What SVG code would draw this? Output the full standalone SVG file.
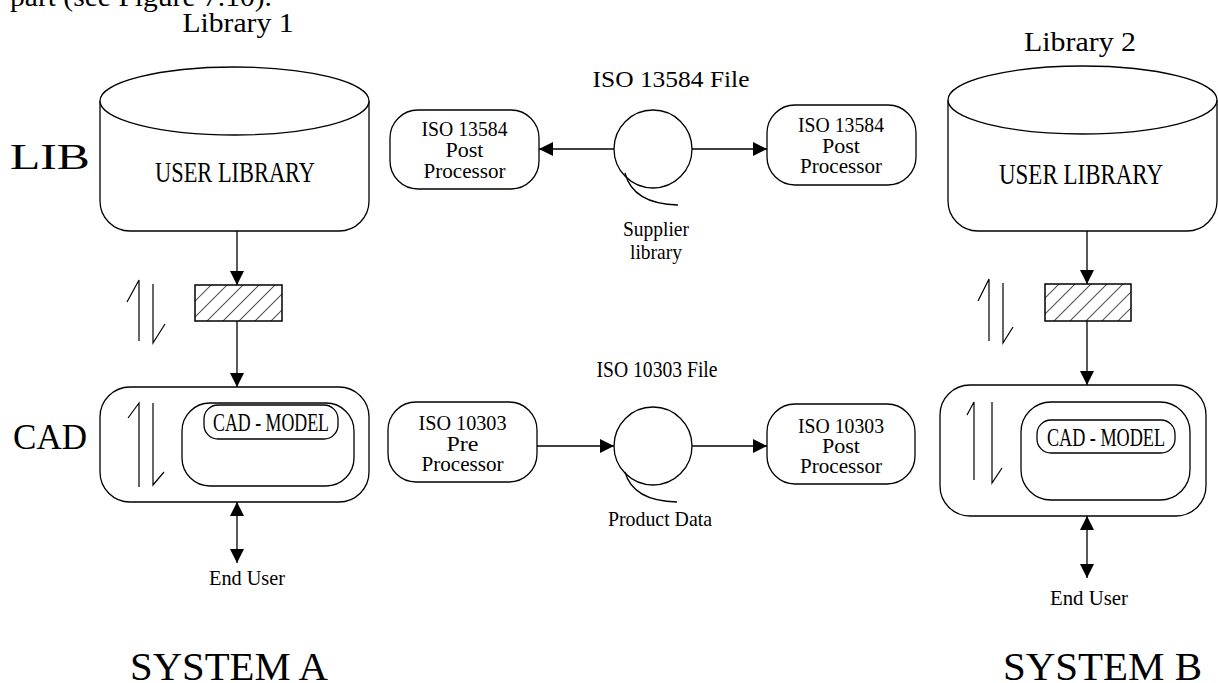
<svg xmlns="http://www.w3.org/2000/svg" width="1218" height="683" viewBox="0 0 1218 683">
<style>
text{font-family:"Liberation Serif","Times New Roman",serif;fill:#000}
.ln{fill:none;stroke:#000;stroke-width:1.3}
.box{fill:#fff;stroke:#000;stroke-width:1.3}
.sym{fill:none;stroke:#000;stroke-width:1.2}
.c{text-anchor:middle}
</style>
<defs>
<marker id="ah" viewBox="0 0 10 10" refX="10" refY="5" markerWidth="14" markerHeight="14" markerUnits="userSpaceOnUse" orient="auto-start-reverse">
<path d="M0,0 L10,5 L0,10 Z" fill="#000"/>
</marker>
<pattern id="hatch" patternUnits="userSpaceOnUse" width="11.3" height="11.3" patternTransform="rotate(45)">
<line x1="0" y1="0" x2="0" y2="11.3" stroke="#000" stroke-width="1.3"/>
</pattern>
</defs>
<rect width="1218" height="683" fill="#fff"/>

<text x="10" y="6" font-size="28" textLength="262" lengthAdjust="spacingAndGlyphs">part (see Figure 7.10).</text>
<text x="238" y="32" class="c" font-size="28" textLength="111" lengthAdjust="spacingAndGlyphs">Library 1</text>
<text x="1080" y="51" class="c" font-size="28" textLength="112" lengthAdjust="spacingAndGlyphs">Library 2</text>
<text x="10" y="169" font-size="36" textLength="80" lengthAdjust="spacingAndGlyphs">LIB</text>
<text x="13" y="449" font-size="36" textLength="74" lengthAdjust="spacingAndGlyphs">CAD</text>
<text x="130" y="680" font-size="40" textLength="198" lengthAdjust="spacingAndGlyphs">SYSTEM A</text>
<text x="1003" y="680" font-size="40" textLength="199" lengthAdjust="spacingAndGlyphs">SYSTEM B</text>

<g id="lib1">
<path class="box" d="M100,101 V201 A30,30 0 0 0 130,231 H339 A30,30 0 0 0 369,201 V101"/>
<ellipse class="box" cx="234.5" cy="101" rx="134.5" ry="34"/>
<text x="235" y="182" class="c" font-size="30" textLength="160" lengthAdjust="spacingAndGlyphs">USER LIBRARY</text>
</g>
<g id="lib2">
<path class="box" d="M948,100 V201 A30,30 0 0 0 978,231 H1187 A30,30 0 0 0 1217,201 V100"/>
<ellipse class="box" cx="1082.5" cy="100" rx="134.5" ry="34"/>
<text x="1081" y="184" class="c" font-size="30" textLength="164" lengthAdjust="spacingAndGlyphs">USER LIBRARY</text>
</g>

<g id="hatch1">
<rect x="195" y="285" width="87" height="36" fill="url(#hatch)" stroke="#000" stroke-width="1.5"/>
<path class="sym" d="M127,302 L139,280 L139,341 M153,284 L153,343 L165,324"/>
</g>
<g id="hatch2">
<rect x="1045" y="284" width="86" height="37" fill="url(#hatch)" stroke="#000" stroke-width="1.5"/>
<path class="sym" d="M978,301 L989,279 L989,341 M1003,283 L1003,343 L1013,327"/>
</g>

<g id="cad1">
<rect class="box" x="100" y="387" width="269" height="115" rx="30"/>
<rect class="box" x="182" y="403" width="172" height="83" rx="28"/>
<rect class="box" x="204" y="405" width="134" height="34" rx="14"/>
<text x="271" y="431" class="c" font-size="25" textLength="116" lengthAdjust="spacingAndGlyphs">CAD - MODEL</text>
<path class="sym" d="M128,418 L139,403 L139,487 M153,403 L153,485 L164,472"/>
</g>
<g id="cad2">
<rect class="box" x="940" y="385" width="266" height="131" rx="30"/>
<rect class="box" x="1021" y="402" width="169" height="98" rx="30"/>
<rect class="box" x="1037" y="420" width="138" height="33" rx="14"/>
<text x="1106" y="446" class="c" font-size="25" textLength="118" lengthAdjust="spacingAndGlyphs">CAD - MODEL</text>
<path class="sym" d="M967,415 L974,402 L974,480 M992,402 L992,483 L1002,468"/>
</g>

<g id="pp1">
<rect class="box" x="390" y="110" width="149" height="79" rx="28"/>
<text x="464.5" y="136" class="c" font-size="21" textLength="86" lengthAdjust="spacingAndGlyphs">ISO 13584</text>
<text x="464.5" y="157" class="c" font-size="21" textLength="38" lengthAdjust="spacingAndGlyphs">Post</text>
<text x="464.5" y="178" class="c" font-size="21" textLength="82" lengthAdjust="spacingAndGlyphs">Processor</text>
</g>
<g id="pp2">
<rect class="box" x="767" y="105" width="149" height="80" rx="28"/>
<text x="841" y="132" class="c" font-size="21" textLength="86" lengthAdjust="spacingAndGlyphs">ISO 13584</text>
<text x="841" y="153" class="c" font-size="21" textLength="38" lengthAdjust="spacingAndGlyphs">Post</text>
<text x="841" y="173" class="c" font-size="21" textLength="82" lengthAdjust="spacingAndGlyphs">Processor</text>
</g>
<g id="file1">
<text x="671" y="87" class="c" font-size="23" textLength="157" lengthAdjust="spacingAndGlyphs">ISO 13584 File</text>
<circle class="box" cx="653" cy="149" r="39"/>
<path class="ln" d="M625,173 Q633,204 678,205"/>
<text x="656" y="236" class="c" font-size="21" textLength="66" lengthAdjust="spacingAndGlyphs">Supplier</text>
<text x="656" y="259" class="c" font-size="21" textLength="52" lengthAdjust="spacingAndGlyphs">library</text>
</g>

<g id="pre1">
<rect class="box" x="388" y="402" width="149" height="80" rx="28"/>
<text x="462.5" y="430" class="c" font-size="21" textLength="88" lengthAdjust="spacingAndGlyphs">ISO 10303</text>
<text x="462.5" y="451" class="c" font-size="21" textLength="32" lengthAdjust="spacingAndGlyphs">Pre</text>
<text x="462.5" y="471" class="c" font-size="21" textLength="82" lengthAdjust="spacingAndGlyphs">Processor</text>
</g>
<g id="post2">
<rect class="box" x="767" y="404" width="148" height="80" rx="28"/>
<text x="841" y="433" class="c" font-size="21" textLength="86" lengthAdjust="spacingAndGlyphs">ISO 10303</text>
<text x="841" y="453" class="c" font-size="21" textLength="38" lengthAdjust="spacingAndGlyphs">Post</text>
<text x="841" y="473" class="c" font-size="21" textLength="82" lengthAdjust="spacingAndGlyphs">Processor</text>
</g>
<g id="file2">
<text x="657" y="377" class="c" font-size="23" textLength="121" lengthAdjust="spacingAndGlyphs">ISO 10303 File</text>
<circle class="box" cx="653" cy="446" r="39"/>
<path class="ln" d="M625,472 Q633,501 677,502"/>
<text x="660" y="526" class="c" font-size="21" textLength="104" lengthAdjust="spacingAndGlyphs">Product Data</text>
</g>

<g id="endusers">
<text x="247" y="585" class="c" font-size="21" textLength="76" lengthAdjust="spacingAndGlyphs">End User</text>
<text x="1089" y="605" class="c" font-size="21" textLength="78" lengthAdjust="spacingAndGlyphs">End User</text>
</g>

<g id="connectors">
<line class="ln" x1="237" y1="231" x2="237" y2="285" marker-end="url(#ah)"/>
<line class="ln" x1="237" y1="321" x2="237" y2="387" marker-end="url(#ah)"/>
<line class="ln" x1="237" y1="502" x2="237" y2="563" marker-start="url(#ah)" marker-end="url(#ah)"/>
<line class="ln" x1="1087" y1="231" x2="1087" y2="284" marker-end="url(#ah)"/>
<line class="ln" x1="1087" y1="321" x2="1087" y2="385" marker-end="url(#ah)"/>
<line class="ln" x1="1087" y1="516" x2="1087" y2="578" marker-start="url(#ah)" marker-end="url(#ah)"/>
<line class="ln" x1="614" y1="149" x2="539" y2="149" marker-end="url(#ah)"/>
<line class="ln" x1="692" y1="149" x2="767" y2="149" marker-end="url(#ah)"/>
<line class="ln" x1="537" y1="446" x2="614" y2="446" marker-end="url(#ah)"/>
<line class="ln" x1="692" y1="446" x2="767" y2="446" marker-end="url(#ah)"/>
</g>
</svg>
